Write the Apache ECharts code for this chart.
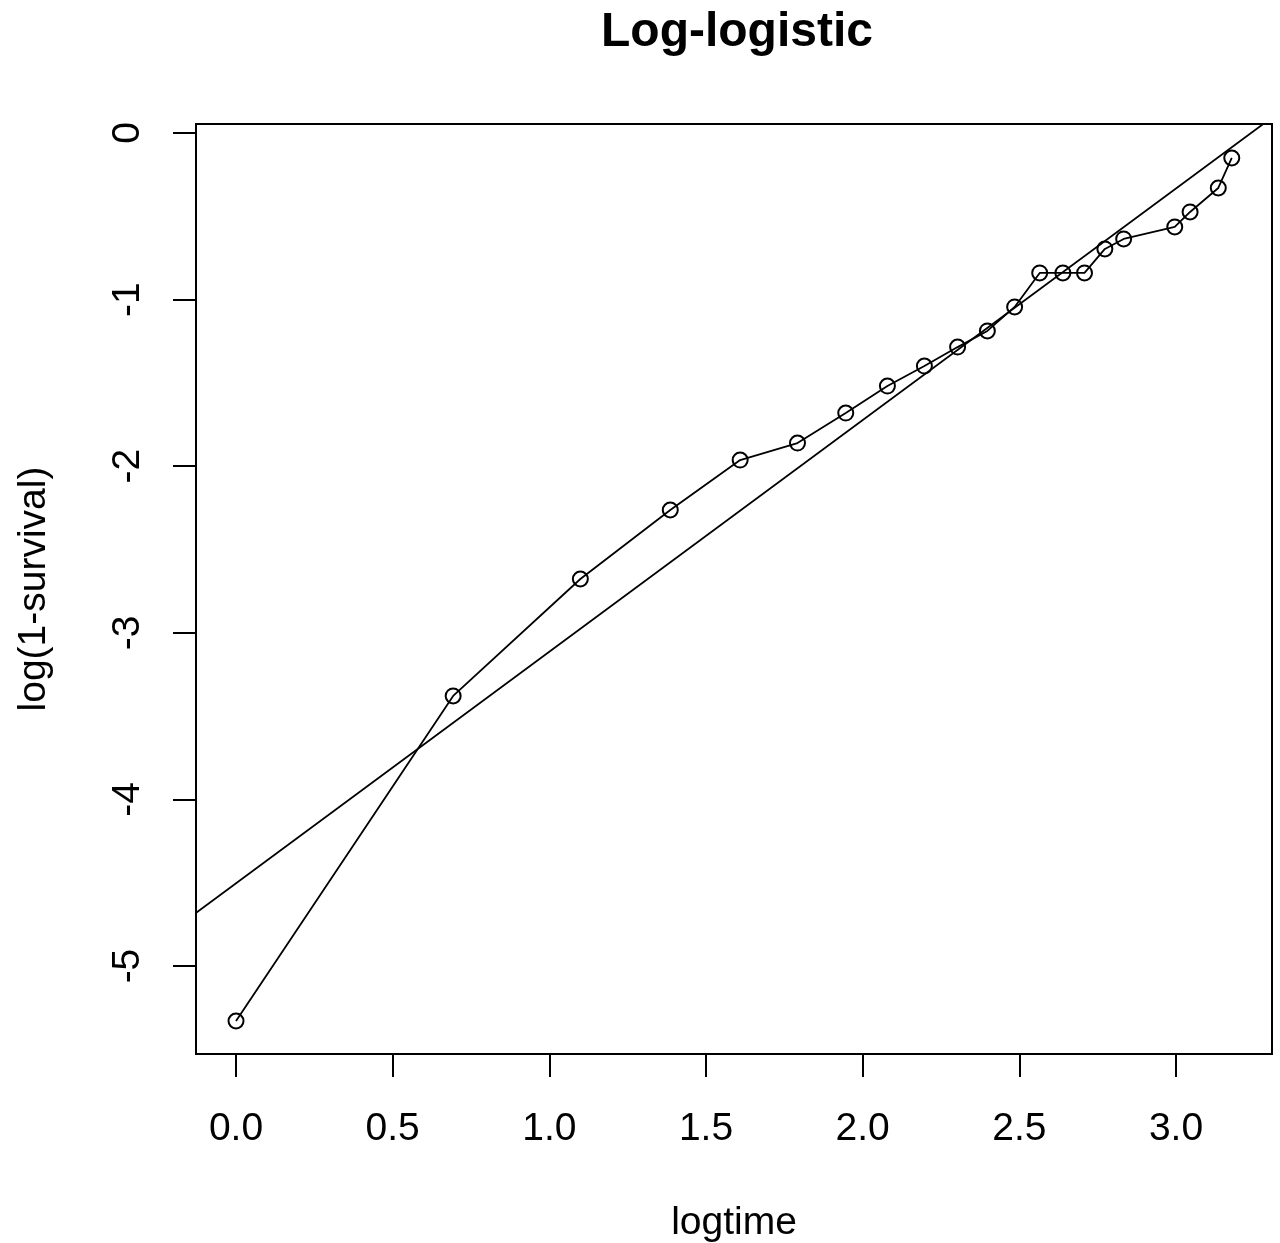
<!DOCTYPE html>
<html>
<head>
<meta charset="utf-8">
<script src="https://cdn.jsdelivr.net/npm/echarts@6/dist/echarts.min.js"></script>
<style>html,body{margin:0;padding:0;background:#fff;}#c{width:1280px;height:1243px;}</style>
</head>
<body>
<div id="c"></div>
<script>
// Data
const logtime = [0, 0.693, 1.099, 1.386, 1.609, 1.792, 1.946, 2.079, 2.197, 2.303, 2.398, 2.485, 2.565, 2.639, 2.708, 2.773, 2.833, 2.996, 3.045, 3.135, 3.178];
const logSurv = [-5.33, -3.379, -2.677, -2.263, -1.963, -1.861, -1.681, -1.519, -1.399, -1.285, -1.188, -1.044, -0.840, -0.840, -0.840, -0.696, -0.636, -0.564, -0.474, -0.330, -0.150];
const fitX = [-0.3, 3.5];
const fitY = [-4.920, 0.362];
const xTicks = [0, 0.5, 1.0, 1.5, 2.0, 2.5, 3.0];
const yTicks = [-5, -4, -3, -2, -1, 0];
const xRange = [-0.1277, 3.3064];
const yRange = [-5.528, 0.054];

const pts = logtime.map((x, i) => [x, logSurv[i]]);
const fit = fitX.map((x, i) => [x, fitY[i]]);
const FONT = "'Liberation Sans', Arial, Helvetica, sans-serif";

const chart = echarts.init(document.getElementById('c'), null, {renderer: 'canvas'});
chart.setOption({
  backgroundColor: '#fff',
  animation: false,
  title: {
    text: 'Log-logistic',
    left: 732,
    top: 4,
    textAlign: 'center',
    textStyle: {fontFamily: FONT, fontWeight: 'bold', fontSize: 48, color: '#000'}
  },
  grid: {
    left: 196, top: 124, width: 1076, height: 930,
    show: true, borderColor: '#000', borderWidth: 2, backgroundColor: 'transparent',
    containLabel: false,
    outerBoundsMode: 'none'
  },
  xAxis: {
    type: 'value',
    position: 'bottom',
    min: xRange[0], max: xRange[1],
    name: 'logtime', nameLocation: 'middle', nameGap: 150,
    nameTextStyle: {fontFamily: FONT, fontSize: 39, color: '#000'},
    axisLine: {show: false, onZero: false},
    splitLine: {show: false},
    axisTick: {show: true, inside: false, length: 23, customValues: xTicks, lineStyle: {color: '#000', width: 2}},
    axisLabel: {customValues: xTicks, margin: 56, fontFamily: FONT, fontSize: 39, color: '#000',
      formatter: v => v.toFixed(1)}
  },
  yAxis: {
    type: 'value',
    position: 'left',
    min: yRange[0], max: yRange[1],
    name: 'log(1-survival)', nameLocation: 'middle', nameGap: 142,
    nameTextStyle: {fontFamily: FONT, fontSize: 39, color: '#000'},
    axisLine: {show: false, onZero: false},
    splitLine: {show: false},
    axisTick: {show: true, inside: false, length: 23, customValues: yTicks, lineStyle: {color: '#000', width: 2}},
    axisLabel: {customValues: yTicks, rotate: 90, margin: 48, fontFamily: FONT, fontSize: 39, color: '#000',
      formatter: v => String(v)}
  },
  series: [
    {
      type: 'line',
      data: pts,
      symbol: 'circle',
      symbolSize: 15,
      showSymbol: true,
      clip: true,
      lineStyle: {color: '#000', width: 1.8},
      itemStyle: {color: 'rgba(0,0,0,0)', borderColor: '#000', borderWidth: 2},
      z: 3
    },
    {
      type: 'line',
      data: fit,
      symbol: 'none',
      clip: true,
      lineStyle: {color: '#000', width: 1.8},
      z: 2
    }
  ]
});
</script>
</body>
</html>
